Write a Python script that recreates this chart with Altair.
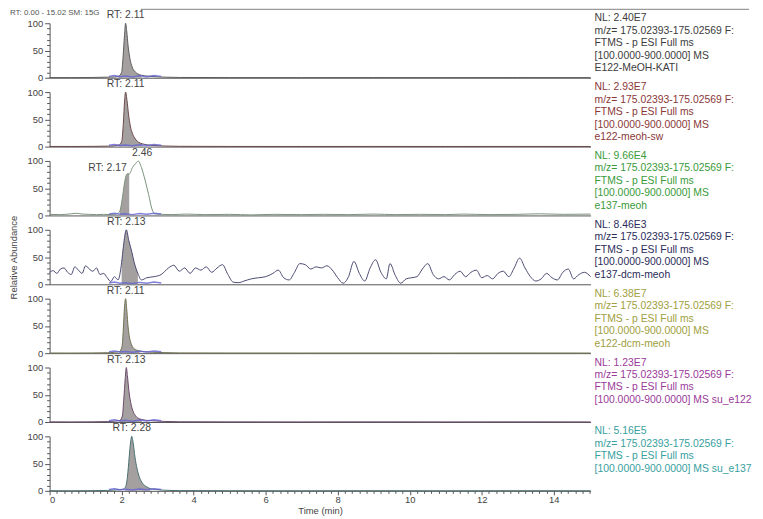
import altair as alt
import pandas as pd

# ---------------- data ----------------
t1 = [0, 0.6, 1.2, 1.6, 1.8, 1.92, 2.0, 2.04, 2.08, 2.11, 2.14, 2.18, 2.23, 2.29, 2.36, 2.45, 2.55, 2.7, 2.9, 3.2, 3.6, 5, 7, 9, 11, 13, 15.02]
v1 = [0.3, 0.2, 0.5, 1.0, 1.5, 3, 10, 38, 78, 100, 86, 58, 35, 20, 12, 7, 4.5, 3, 2, 1, 0.5, 0.3, 0.2, 0.3, 0.2, 0.3, 0.2]

t2 = [0, 0.6, 1.2, 1.6, 1.8, 1.93, 2.0, 2.05, 2.08, 2.11, 2.15, 2.19, 2.24, 2.3, 2.38, 2.47, 2.58, 2.72, 2.9, 3.2, 3.6, 5, 7, 9, 11, 13, 15.02]
v2 = [0.3, 0.2, 0.4, 0.8, 1.5, 3, 9, 45, 82, 100, 84, 60, 38, 24, 14, 8, 5, 3, 2, 1, 0.5, 0.3, 0.2, 0.3, 0.2, 0.3, 0.2]

t3 = [0, 0.3, 0.6, 0.75, 0.9, 1.1, 1.3, 1.5, 1.7, 1.85, 1.95, 2.02, 2.08, 2.13, 2.17, 2.21, 2.3, 2.4, 2.46, 2.55, 2.65, 2.75, 2.85, 2.92, 3.1, 3.4, 3.8, 4.3, 5.0, 5.6, 6.2, 7.0, 7.6, 8.3, 9.0, 9.6, 10.3, 11.0, 11.5, 12.2, 13.0, 13.6, 14.3, 15.02]
v3 = [2, 1.5, 3, 4, 2.5, 2, 1.5, 2, 1.5, 2.5, 8, 32, 60, 74, 77, 76, 88, 96, 100, 88, 65, 38, 10, 3, 2, 1.5, 2.5, 1.5, 2, 1, 2, 1.5, 2, 1.5, 2.5, 1.5, 2, 1.5, 2.5, 1.5, 2, 3, 2, 2.5]

t4 = [0.0, 0.1, 0.2, 0.3, 0.4, 0.5, 0.6, 0.7, 0.8, 0.9, 1.0, 1.1, 1.2, 1.3, 1.4, 1.5, 1.6, 1.7, 1.8, 1.9, 2.0, 2.05, 2.13, 2.2, 2.28, 2.35, 2.45, 2.55, 2.7, 2.9, 3.1, 3.3, 3.45, 3.6, 3.75, 3.9, 4.05, 4.2, 4.35, 4.5, 4.65, 4.8, 4.95, 5.1, 5.25, 5.4, 5.6, 5.8, 6.0, 6.2, 6.35, 6.5, 6.65, 6.8, 6.95, 7.1, 7.25, 7.4, 7.55, 7.7, 7.85, 8.0, 8.15, 8.3, 8.45, 8.6, 8.75, 8.9, 9.05, 9.2, 9.35, 9.45, 9.6, 9.75, 9.9, 10.05, 10.2, 10.35, 10.5, 10.65, 10.8, 10.95, 11.1, 11.25, 11.4, 11.55, 11.7, 11.85, 12.0, 12.15, 12.3, 12.45, 12.6, 12.75, 12.9, 13.05, 13.2, 13.35, 13.5, 13.65, 13.8, 13.95, 14.1, 14.25, 14.4, 14.55, 14.7, 14.85, 15.02]
v4 = [22, 25, 20, 28, 30, 22, 18, 32, 26, 20, 34, 28, 24, 30, 18, 20, 12, 5, 14, 8, 40, 70, 100, 80, 60, 40, 20, 8, 12, 14, 18, 30, 35, 24, 30, 20, 30, 26, 32, 22, 30, 36, 18, 4, 3, 6, 10, 12, 14, 20, 26, 12, 8, 22, 38, 36, 28, 32, 30, 34, 26, 12, 2, 14, 42, 20, 6, 30, 45, 22, 10, 38, 16, 2, 10, 12, 14, 28, 38, 18, 10, 14, 8, 18, 24, 14, 22, 26, 12, 16, 10, 20, 24, 14, 30, 48, 30, 14, 6, 10, 20, 12, 8, 22, 28, 10, 18, 22, 14]

t5 = [0, 0.6, 1.2, 1.6, 1.8, 1.94, 2.01, 2.05, 2.08, 2.11, 2.14, 2.17, 2.21, 2.26, 2.32, 2.4, 2.5, 2.65, 2.85, 3.2, 3.6, 5, 7, 9, 11, 13, 15.02]
v5 = [0.3, 0.2, 0.4, 0.8, 1.5, 3, 12, 48, 85, 100, 82, 55, 32, 18, 10, 6, 4, 2.5, 1.5, 1, 0.5, 0.3, 0.2, 0.3, 0.2, 0.3, 0.2]

t6 = [0, 0.6, 1.2, 1.6, 1.8, 1.95, 2.02, 2.06, 2.1, 2.13, 2.16, 2.2, 2.25, 2.31, 2.38, 2.46, 2.56, 2.7, 2.9, 3.2, 3.6, 5, 7, 9, 11, 13, 15.02]
v6 = [0.3, 0.2, 0.4, 0.8, 1.5, 3, 11, 42, 80, 100, 85, 58, 36, 21, 12, 7, 4.5, 3, 2, 1, 0.5, 0.3, 0.2, 0.3, 0.2, 0.3, 0.2]

t7 = [0, 0.6, 1.2, 1.6, 1.8, 2.0, 2.1, 2.16, 2.21, 2.25, 2.28, 2.32, 2.37, 2.43, 2.5, 2.58, 2.68, 2.8, 2.95, 3.2, 3.6, 5, 7, 9, 11, 13, 15.02]
v7 = [0.3, 0.2, 0.4, 0.8, 1.5, 2.5, 6, 25, 62, 90, 100, 88, 62, 40, 24, 14, 8, 4, 2.5, 1.2, 0.5, 0.3, 0.2, 0.3, 0.2, 0.3, 0.2]

times = [t1, t2, t3, t4, t5, t6, t7]
values = [v1, v2, v3, v4, v5, v6, v7]
fill_ranges = [(1.92, 2.6), (1.93, 2.62), (1.9, 2.22), (1.95, 2.5), (1.94, 2.55), (1.95, 2.6), (2.05, 2.85)]

# baseline (integration) markers
base_t = [1.65, 1.8, 1.95, 2.1, 2.3, 2.5, 2.7, 2.9, 3.1]
base_v = [2.5, 4, 2, 3, 1.5, 3.5, 2, 4, 2.5]

# peak labels: (time, apex value, text, align, dx, dy)
peak_labels = [
    [(2.11, 100, "RT: 2.11", "center", 0, -3)],
    [(2.11, 100, "RT: 2.11", "center", 0, -3)],
    [(2.17, 77, "RT: 2.17", "right", -1, -1), (2.46, 100, "2.46", "center", 4, -3)],
    [(2.13, 100, "RT: 2.13", "center", 0, -3)],
    [(2.11, 100, "RT: 2.11", "center", 0, -3)],
    [(2.13, 100, "RT: 2.13", "center", 0, -3)],
    [(2.28, 100, "RT: 2.28", "center", 0, -3)],
]

nl_values = ["2.40E7", "2.93E7", "9.66E4", "8.46E3", "6.38E7", "1.23E7", "5.16E5"]
sample_names = ["E122-MeOH-KATI", "e122-meoh-sw", "e137-meoh", "e137-dcm-meoh", "e122-dcm-meoh", "su_e122", "su_e137"]
inline_name = [False, False, False, False, False, True, True]

text_colors = ["#3c3c3c", "#8a3838", "#3a9a3a", "#2c2c5a", "#a0a040", "#9a3a9a", "#38a0a0"]
trace_colors = ["#5a5a5a", "#6a4848", "#7a927a", "#4a4a72", "#707050", "#6a486a", "#487070"]
fill_color = "#a4a0a0"
base_color = "#6262d2"

x_ticks = [round(0.2 * k, 1) for k in range(76)]
y_ticks = [10 * k for k in range(11)]

W, H = 546, 55
FONT = "Liberation Sans"

xs = alt.Scale(domain=[0, 15.02], nice=False, zero=False)
ys = alt.Scale(domain=[0, 100], nice=False)


def make_panel(i):
    bottom = i == 6
    if bottom:
        xaxis = alt.Axis(values=x_ticks, title="Time (min)", grid=False,
                         labelExpr="datum.value % 2 === 0 ? format(datum.value, 'd') : ''",
                         tickSize={"condition": {"test": "datum.value % 2 === 0", "value": 4}, "value": 2.5},
                         labelOverlap=False, labelFontSize=9.5, titleFontSize=9.5,
                         titleFontWeight="normal", labelPadding=0, titlePadding=1)
    else:
        xaxis = alt.Axis(labels=False, ticks=False, title=None, grid=False)
    yaxis = alt.Axis(values=y_ticks, grid=False,
                     labelExpr="datum.value % 50 === 0 ? datum.label : ''",
                     tickSize={"condition": {"test": "datum.value % 50 === 0", "value": 5}, "value": 3},
                     labelOverlap=False, labelFontSize=9.5, labelPadding=2,
                     title="Relative Abundance" if i == 3 else None,
                     titleFontSize=9.5, titleFontWeight="normal", titlePadding=9)
    X = alt.X("t:Q", scale=xs, axis=xaxis)
    Y = alt.Y("v:Q", scale=ys, axis=yaxis)

    df = pd.DataFrame({"t": times[i], "v": values[i]})
    lo, hi = fill_ranges[i]
    dff = df[(df.t >= lo) & (df.t <= hi)]
    dfb = pd.DataFrame({"t": base_t, "v": base_v})
    dfl = pd.DataFrame(peak_labels[i], columns=["t", "v", "txt", "al", "dx", "dy"])

    area = alt.Chart(dff).mark_area(color=fill_color, opacity=1, interpolate="monotone").encode(x=X, y=Y)
    line = alt.Chart(df).mark_line(color=trace_colors[i], strokeWidth=1, interpolate="monotone").encode(x=X, y=Y)
    base = alt.Chart(dfb).mark_line(color=base_color, strokeWidth=1.5, opacity=0.8).encode(x=X, y=Y)

    lbl_layers = []
    for _, r in dfl.iterrows():
        lbl_layers.append(
            alt.Chart(dfl[dfl.txt == r.txt]).mark_text(
                align=r.al, dx=int(r.dx), dy=int(r.dy), baseline="bottom",
                fontSize=10.5, font=FONT, color="#444444"
            ).encode(x=X, y=Y, text="txt:N")
        )

    lines = ["NL: " + nl_values[i], "m/z= 175.02393-175.02569 F:", "FTMS - p ESI Full ms"]
    if inline_name[i]:
        lines.append("[100.0000-900.0000]  MS " + sample_names[i])
    else:
        lines.append("[100.0000-900.0000]  MS")
        lines.append(sample_names[i])
    info = alt.Chart(pd.DataFrame({"txt": ["\n".join(lines)]})).mark_text(
        align="left", baseline="top", lineBreak="\n", lineHeight=12.6,
        fontSize=10.5, font=FONT, color=text_colors[i]
    ).encode(x=alt.value(W + 4), y=alt.value(-10), text="txt:N")

    layers = [area, line, base] + lbl_layers + [info]
    if i == 0:
        top = alt.Chart(pd.DataFrame({"txt": ["RT: 0.00 - 15.02  SM: 15G"]})).mark_text(
            align="left", baseline="alphabetic", fontSize=8, font=FONT, color="#555555"
        ).encode(x=alt.value(-40), y=alt.value(-8), text="txt:N")
        frame = alt.Chart(pd.DataFrame({"k": [0]})).mark_rule(color="#9a9a9a", strokeWidth=1.5).encode(
            x=alt.value(92), x2=alt.value(W + 160), y=alt.value(-14)
        )
        layers += [top, frame]
    return alt.layer(*layers).properties(width=W, height=H)


chart = alt.vconcat(*[make_panel(i) for i in range(7)], spacing=14.5, bounds="flush").properties(
    padding={"left": 0, "top": -2, "right": 0, "bottom": 0}
).configure_view(stroke=None).configure_axis(
    labelFont=FONT, titleFont=FONT, labelColor="#444444", titleColor="#444444",
    domainColor="#555555", tickColor="#555555", domainWidth=1, tickWidth=1
)

chart.save("out.html", embed_options={"renderer": "svg", "actions": False})
